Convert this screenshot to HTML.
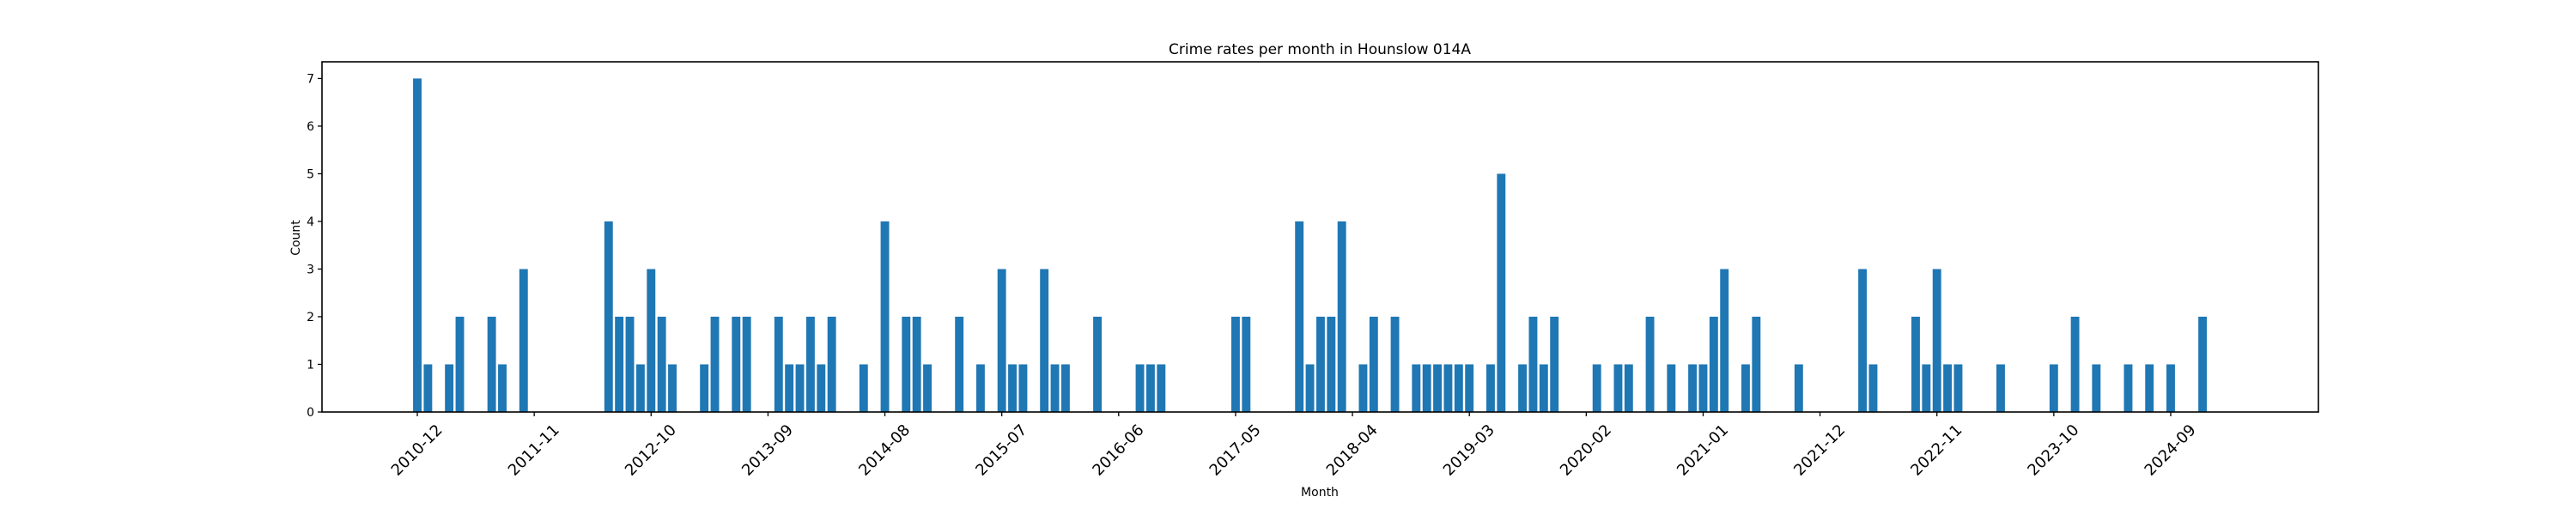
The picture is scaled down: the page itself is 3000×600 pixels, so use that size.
<!DOCTYPE html>
<html><head><meta charset="utf-8"><style>
html,body{margin:0;padding:0;background:#fff;}
svg{display:block;font-family:"DejaVu Sans","Liberation Sans",sans-serif;}
</style></head><body>
<svg id="chart" width="3000" height="600" viewBox="0 0 3000 600" xmlns="http://www.w3.org/2000/svg">
<rect x="0" y="0" width="3000" height="600" fill="#fff"/>
<text x="1537" y="63" text-anchor="middle" font-size="17" fill="#000">Crime rates per month in Hounslow 014A</text>
<text x="1537" y="578" text-anchor="middle" font-size="14" fill="#000">Month</text>
<text x="0" y="0" transform="translate(349,277) rotate(-90)" text-anchor="middle" font-size="14" fill="#000">Count</text>
<g id="bars"></g>
<g id="xticks"></g>
<g id="yticks"></g>
<rect x="375" y="72" width="2325" height="408" fill="none" stroke="#000" stroke-width="1.6"/>
</svg>
<script>
// month index relative to 2010-12
const monthIndex = [0,1,3,4,7,8,10,18,19,20,21,22,23,24,27,28,30,31,34,35,36,37,38,39,42,44,46,47,48,51,53,55,56,57,59,60,61,64,68,69,70,77,78,83,84,85,86,87,89,90,92,94,95,96,97,98,99,101,102,104,105,106,107,111,113,114,116,118,120,121,122,123,125,126,130,136,137,141,142,143,144,145,149,154,156,158,161,163,165,168];
const counts = [7,1,1,2,2,1,3,4,2,2,1,3,2,1,1,2,2,2,2,1,1,2,1,2,1,4,2,2,1,2,1,3,1,1,3,1,1,2,1,1,1,2,2,4,1,2,2,4,1,2,2,1,1,1,1,1,1,1,5,1,2,1,2,1,1,1,2,1,1,1,2,3,1,2,1,3,1,2,1,3,1,1,1,1,2,1,1,1,1,2];
const xTickLabels = ["2010-12","2011-11","2012-10","2013-09","2014-08","2015-07","2016-06","2017-05","2018-04","2019-03","2020-02","2021-01","2021-12","2022-11","2023-10","2024-09"];
const xTickMonths = [0,11,22,33,44,55,66,77,88,99,110,121,132,143,154,165];
const yTicks = [0,1,2,3,4,5,6,7];

const NS = "http://www.w3.org/2000/svg";
const PL = 375, PR = 2700, PT = 72, PB = 480;
const XMIN = -8.97, XMAX = 178.9, YMAX = 7.35;
function xScale(m){ return PL + (m - XMIN) / (XMAX - XMIN) * (PR - PL); }
function yScale(v){ return PB - v / YMAX * (PB - PT); }
const bw = 0.8 * (PR - PL) / (XMAX - XMIN);

const barsG = document.getElementById('bars');
monthIndex.forEach((m, i) => {
  const r = document.createElementNS(NS, 'rect');
  const x = xScale(m) - bw / 2, y = yScale(counts[i]);
  r.setAttribute('x', x); r.setAttribute('y', y);
  r.setAttribute('width', bw); r.setAttribute('height', PB - y);
  r.setAttribute('fill', '#1f77b4');
  
  
  barsG.appendChild(r);
});

const xg = document.getElementById('xticks');
xTickMonths.forEach((m, i) => {
  const x = xScale(m);
  const t = document.createElementNS(NS, 'line');
  t.setAttribute('x1', x); t.setAttribute('x2', x);
  t.setAttribute('y1', PB); t.setAttribute('y2', PB + 5);
  t.setAttribute('stroke', '#000'); t.setAttribute('stroke-width', '1.3');
  
  
  xg.appendChild(t);
  const lb = document.createElementNS(NS, 'text');
  lb.setAttribute('x', 0); lb.setAttribute('y', 0);
  lb.setAttribute('transform', 'translate(' + x + ',525) rotate(-45)');
  lb.setAttribute('text-anchor', 'middle');
  lb.setAttribute('dominant-baseline', 'middle');
  lb.setAttribute('font-size', '18');
  lb.textContent = xTickLabels[i];
  
  
  xg.appendChild(lb);
});

const yg = document.getElementById('yticks');
yTicks.forEach(v => {
  const y = yScale(v);
  const t = document.createElementNS(NS, 'line');
  t.setAttribute('x1', PL - 5); t.setAttribute('x2', PL);
  t.setAttribute('y1', y); t.setAttribute('y2', y);
  t.setAttribute('stroke', '#000'); t.setAttribute('stroke-width', '1.3');
  
  
  yg.appendChild(t);
  const lb = document.createElementNS(NS, 'text');
  lb.setAttribute('x', PL - 9); lb.setAttribute('y', y + 5);
  lb.setAttribute('text-anchor', 'end');
  lb.setAttribute('font-size', '14');
  lb.textContent = v;
  
  
  yg.appendChild(lb);
});
</script>
</body></html>
